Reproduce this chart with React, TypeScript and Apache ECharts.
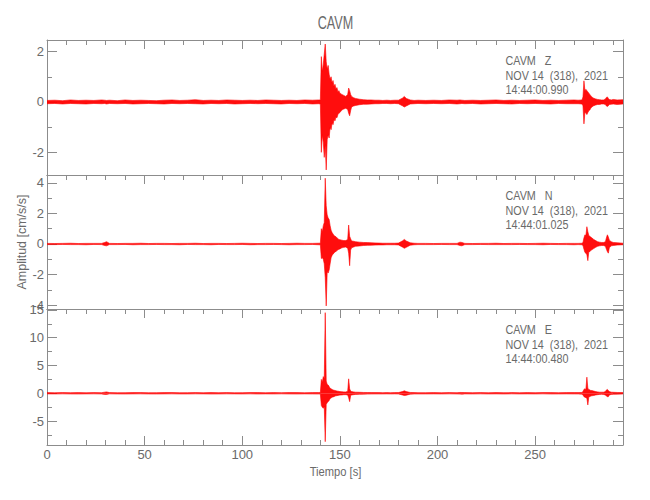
import React, { useEffect, useRef } from "react";
import * as echarts from "echarts";

const times = [
  0, 4, 8, 12, 16, 20, 24, 28, 29.5, 30.5, 32, 36, 40, 44, 48, 52, 56, 60, 64, 68, 72, 76, 80, 84, 88, 92, 96, 100, 104, 108, 112, 116, 120, 124, 128, 132, 136, 139,
  140, 140.5, 141, 141.5, 142, 142.5, 143, 143.5, 144, 144.5, 145, 145.5, 146, 146.5, 147, 147.5, 148, 148.5, 149, 149.5, 150,
  151, 152, 153, 154, 154.5, 155, 155.5, 156, 157, 158,
  160, 162, 164, 166, 168, 170, 172, 174, 176, 178, 180, 182, 183, 184, 186, 188, 190,
  194, 198, 202, 206, 210, 211.5, 212.5, 214, 218, 222, 226, 230, 234, 238, 242, 246, 250, 254, 258, 262, 266, 270,
  272, 274, 274.5, 275, 275.5, 276, 276.5, 277, 277.5, 278, 278.5, 279, 280, 281, 282, 283, 284, 285, 286, 286.5, 287, 287.5, 288, 289, 290, 292, 295,
];

const zHigh = [
  0.06, 0.07, 0.05, 0.08, 0.06, 0.07, 0.06, 0.08, 0.07, 0.06, 0.07, 0.05, 0.08, 0.06, 0.07, 0.06, 0.05, 0.07, 0.08, 0.06, 0.07, 0.09, 0.06, 0.07, 0.06, 0.08, 0.07, 0.06, 0.07, 0.06, 0.08, 0.07, 0.06, 0.07, 0.06, 0.08, 0.07, 0.08,
  0.08, 1.8, 1.2, 1.5, 1.9, 2.3, 1.6, 1.3, 1.45, 1.1, 0.9, 1.0, 0.75, 0.85, 0.6, 0.7, 0.5, 0.57, 0.4, 0.45, 0.35,
  0.3, 0.26, 0.22, 0.3, 0.55, 0.45, 0.3, 0.22, 0.17, 0.14,
  0.11, 0.09, 0.08, 0.08, 0.07, 0.07, 0.06, 0.07, 0.06, 0.07, 0.07, 0.15, 0.22, 0.14, 0.08, 0.06, 0.07,
  0.06, 0.07, 0.06, 0.08, 0.07, 0.08, 0.07, 0.06, 0.07, 0.06, 0.07, 0.08, 0.06, 0.07, 0.06, 0.07, 0.08, 0.06, 0.07, 0.06, 0.07, 0.08,
  0.07, 0.08, 0.2, 0.84, 0.45, 0.5, 0.45, 0.4, 0.35, 0.3, 0.25, 0.2, 0.15, 0.12, 0.1, 0.09, 0.08, 0.08, 0.12, 0.18, 0.2, 0.14, 0.1, 0.08, 0.1, 0.08, 0.09,
];
const zLow = [
  -0.07, -0.06, -0.08, -0.06, -0.07, -0.08, -0.06, -0.07, -0.06, -0.08, -0.06, -0.07, -0.06, -0.08, -0.07, -0.06, -0.07, -0.08, -0.06, -0.07, -0.06, -0.07, -0.08, -0.06, -0.07, -0.06, -0.08, -0.07, -0.06, -0.07, -0.06, -0.07, -0.08, -0.06, -0.07, -0.06, -0.08, -0.07,
  -0.08, -2.0, -1.3, -1.6, -2.2, -1.7, -2.7, -1.5, -1.3, -1.43, -1.0, -1.1, -0.85, -0.9, -0.7, -0.75, -0.6, -0.63, -0.5, -0.45, -0.42,
  -0.32, -0.28, -0.25, -0.3, -0.45, -0.55, -0.35, -0.2, -0.16, -0.14,
  -0.11, -0.09, -0.09, -0.08, -0.07, -0.07, -0.06, -0.06, -0.07, -0.06, -0.07, -0.15, -0.2, -0.16, -0.08, -0.07, -0.06,
  -0.07, -0.06, -0.07, -0.06, -0.08, -0.07, -0.06, -0.07, -0.06, -0.08, -0.07, -0.06, -0.07, -0.08, -0.06, -0.07, -0.06, -0.07, -0.08, -0.06, -0.07, -0.07,
  -0.07, -0.08, -0.15, -0.87, -0.4, -0.45, -0.5, -0.42, -0.35, -0.32, -0.25, -0.2, -0.15, -0.12, -0.1, -0.1, -0.08, -0.08, -0.1, -0.16, -0.18, -0.15, -0.1, -0.09, -0.08, -0.1, -0.08,
];

const nHigh = [
  0.04, 0.03, 0.04, 0.05, 0.03, 0.04, 0.04, 0.04, 0.1, 0.15, 0.04, 0.03, 0.04, 0.04, 0.05, 0.03, 0.04, 0.04, 0.03, 0.04, 0.04, 0.05, 0.03, 0.04, 0.04, 0.03, 0.04, 0.05, 0.04, 0.03, 0.04, 0.04, 0.03, 0.04, 0.05, 0.04, 0.04, 0.05,
  0.05, 1.0, 0.8, 1.2, 1.4, 4.3, 2.5, 1.9, 1.7, 1.6, 1.2, 0.9, 0.75, 0.65, 0.55, 0.5, 0.48, 0.4, 0.35, 0.3, 0.28,
  0.25, 0.22, 0.22, 0.3, 1.24, 0.5, 0.35, 0.2, 0.18, 0.15,
  0.12, 0.1, 0.09, 0.08, 0.07, 0.06, 0.05, 0.05, 0.05, 0.05, 0.06, 0.2, 0.3, 0.2, 0.08, 0.05, 0.04,
  0.04, 0.03, 0.04, 0.04, 0.04, 0.12, 0.1, 0.04, 0.03, 0.04, 0.04, 0.05, 0.03, 0.04, 0.04, 0.03, 0.04, 0.05, 0.04, 0.03, 0.04, 0.04,
  0.04, 0.05, 0.1, 0.4, 0.6, 0.55, 1.13, 0.8, 0.55, 0.5, 0.45, 0.4, 0.3, 0.22, 0.15, 0.12, 0.1, 0.1, 0.15, 0.4, 0.6, 0.45, 0.25, 0.15, 0.1, 0.08, 0.05,
];
const nLow = [
  -0.04, -0.04, -0.03, -0.04, -0.04, -0.05, -0.03, -0.04, -0.1, -0.12, -0.04, -0.04, -0.03, -0.05, -0.04, -0.04, -0.03, -0.04, -0.04, -0.05, -0.03, -0.04, -0.04, -0.05, -0.03, -0.04, -0.04, -0.03, -0.05, -0.04, -0.04, -0.03, -0.04, -0.05, -0.04, -0.04, -0.03, -0.05,
  -0.05, -0.95, -0.9, -1.0, -1.3, -2.2, -4.05, -1.8, -1.9, -1.7, -1.3, -0.9, -0.75, -0.65, -0.6, -0.5, -0.5, -0.42, -0.38, -0.35, -0.32,
  -0.25, -0.22, -0.2, -0.28, -0.6, -1.42, -0.4, -0.25, -0.2, -0.15,
  -0.13, -0.1, -0.09, -0.08, -0.07, -0.06, -0.06, -0.05, -0.05, -0.05, -0.06, -0.2, -0.28, -0.22, -0.08, -0.05, -0.04,
  -0.04, -0.04, -0.03, -0.04, -0.04, -0.1, -0.12, -0.04, -0.04, -0.03, -0.04, -0.04, -0.04, -0.04, -0.03, -0.04, -0.04, -0.05, -0.03, -0.04, -0.04, -0.05,
  -0.04, -0.05, -0.1, -0.35, -0.55, -0.6, -0.7, -1.09, -0.5, -0.5, -0.42, -0.38, -0.3, -0.22, -0.15, -0.12, -0.1, -0.1, -0.15, -0.35, -0.5, -0.6, -0.25, -0.12, -0.1, -0.07, -0.05,
];

const eHigh = [
  0.12, 0.1, 0.13, 0.11, 0.12, 0.1, 0.12, 0.11, 0.2, 0.25, 0.12, 0.1, 0.11, 0.13, 0.12, 0.1, 0.11, 0.12, 0.13, 0.1, 0.11, 0.12, 0.1, 0.13, 0.11, 0.12, 0.1, 0.11, 0.13, 0.12, 0.1, 0.12, 0.11, 0.13, 0.12, 0.1, 0.12, 0.13,
  0.12, 2.5, 2.0, 3.0, 2.6, 14.5, 2.2, 1.6, 1.5, 1.2, 0.9, 0.8, 0.7, 0.6, 0.55, 0.5, 0.45, 0.4, 0.38, 0.35, 0.3,
  0.28, 0.25, 0.25, 0.35, 2.6, 0.8, 0.4, 0.3, 0.25, 0.2,
  0.18, 0.15, 0.14, 0.13, 0.12, 0.12, 0.11, 0.12, 0.11, 0.12, 0.13, 0.3, 0.45, 0.3, 0.15, 0.12, 0.11,
  0.11, 0.12, 0.1, 0.12, 0.11, 0.15, 0.14, 0.12, 0.11, 0.12, 0.1, 0.13, 0.11, 0.12, 0.1, 0.12, 0.11, 0.13, 0.12, 0.11, 0.12, 0.13,
  0.12, 0.15, 0.3, 0.7, 0.8, 0.7, 2.9, 0.9, 0.7, 0.6, 0.5, 0.5, 0.4, 0.3, 0.25, 0.2, 0.2, 0.2, 0.3, 0.6, 0.7, 0.5, 0.3, 0.2, 0.18, 0.15, 0.12,
];
const eLow = [
  -0.11, -0.12, -0.1, -0.12, -0.13, -0.11, -0.1, -0.12, -0.2, -0.22, -0.1, -0.12, -0.13, -0.11, -0.1, -0.12, -0.13, -0.11, -0.1, -0.12, -0.12, -0.1, -0.11, -0.13, -0.12, -0.1, -0.11, -0.12, -0.1, -0.13, -0.11, -0.12, -0.1, -0.12, -0.13, -0.11, -0.12, -0.13,
  -0.12, -2.2, -2.5, -2.7, -2.4, -8.7, -2.0, -1.7, -1.5, -1.3, -0.95, -0.85, -0.7, -0.65, -0.6, -0.5, -0.45, -0.42, -0.38, -0.35, -0.32,
  -0.3, -0.25, -0.25, -0.3, -0.8, -1.5, -0.45, -0.3, -0.25, -0.2,
  -0.18, -0.15, -0.14, -0.13, -0.12, -0.12, -0.12, -0.11, -0.12, -0.11, -0.12, -0.3, -0.4, -0.35, -0.15, -0.12, -0.12,
  -0.12, -0.11, -0.12, -0.1, -0.12, -0.14, -0.15, -0.11, -0.12, -0.1, -0.12, -0.11, -0.13, -0.1, -0.12, -0.11, -0.12, -0.1, -0.13, -0.12, -0.11, -0.12,
  -0.12, -0.15, -0.3, -0.6, -0.7, -0.8, -0.9, -2.1, -0.6, -0.6, -0.5, -0.45, -0.4, -0.3, -0.25, -0.2, -0.18, -0.2, -0.3, -0.5, -0.6, -0.6, -0.3, -0.2, -0.18, -0.15, -0.12,
];

const stationName = "CAVM";
const componentNames = ["Z", "N", "E"];
const dateLabel = "NOV 14  (318),  2021";
const startTimes = ["14:44:00.990", "14:44:01.025", "14:44:00.480"];
const xAxisTitle = "Tiempo [s]";
const yAxisTitle = "Amplitud [cm/s/s]";

const xMin = 0;
const xMax = 295;
const xLabelTicks = [0, 50, 100, 150, 200, 250];
const xMinorTicks = [0, 10, 20, 30, 40, 50, 60, 70, 80, 90, 100, 110, 120, 130, 140, 150, 160, 170, 180, 190, 200, 210, 220, 230, 240, 250, 260, 270, 280, 290];
const yMins = [-2.9, -4.25, -9.3];
const yMaxs = [2.46, 4.51, 15.16];
const yLabelTicks = [[-2, 0, 2], [-4, -2, 0, 2, 4], [-5, 0, 5, 10, 15]];
const yMinorTicks = [
  [-2, -1, 0, 1, 2],
  [-4, -3, -2, -1, 0, 1, 2, 3, 4],
  [-7.5, -5, -2.5, 0, 2.5, 5, 7.5, 10, 12.5, 15],
];

// ---- styling / layout ----
const FONT = "'Liberation Sans', Arial, sans-serif";
const AXIS_COLOR = "#8c8c8c";
const TEXT_COLOR = "#6a6a6a";
const TRACE_COLOR = "#ff0000";
const GRID_LEFT = 47;
const GRID_RIGHT = 27;
const gridTops = [40, 175, 309];
const gridHeights = [135, 134, 136];

export default function App() {
  const ref = useRef<HTMLDivElement>(null);

  useEffect(() => {
    if (!ref.current) return;
    const chart = echarts.init(ref.current, undefined, { renderer: "svg" });

    const highs = [zHigh, nHigh, eHigh];
    const lows = [zLow, nLow, eLow];

    const grids: any[] = [];
    const xAxes: any[] = [];
    const yAxes: any[] = [];
    const series: any[] = [];
    const graphics: any[] = [];

    const line = { show: true, onZero: false, lineStyle: { color: AXIS_COLOR, width: 1 } };
    const noLine = { show: false, onZero: false };
    const tick = (length: number, values: number[]) => ({
      show: true, inside: true, length, customValues: values, lineStyle: { color: AXIS_COLOR, width: 1 },
    });
    const labelStyle = { color: TEXT_COLOR, fontFamily: FONT, fontSize: 13 };

    for (let g = 0; g < 3; g++) {
      grids.push({ left: GRID_LEFT, right: GRID_RIGHT, top: gridTops[g], height: gridHeights[g], containLabel: false });
      const isLast = g === 2;
      const mainX = xAxes.length;
      xAxes.push({
        type: "value", gridIndex: g, min: xMin, max: xMax, position: "bottom",
        axisLine: line,
        axisTick: isLast ? tick(9, xLabelTicks) : { show: false },
        axisLabel: isLast ? { show: true, customValues: xLabelTicks, margin: 3, ...labelStyle } : { show: false },
        splitLine: { show: false },
      });
      xAxes.push({
        type: "value", gridIndex: g, min: xMin, max: xMax, position: "top",
        axisLine: line, axisTick: tick(9, xLabelTicks),
        axisLabel: { show: false }, splitLine: { show: false },
      });
      xAxes.push({
        type: "value", gridIndex: g, min: xMin, max: xMax, position: "top",
        axisLine: noLine, axisTick: tick(5, xMinorTicks),
        axisLabel: { show: false }, splitLine: { show: false },
      });
      if (isLast) {
        xAxes.push({
          type: "value", gridIndex: g, min: xMin, max: xMax, position: "bottom",
          axisLine: noLine, axisTick: tick(5, xMinorTicks),
          axisLabel: { show: false }, splitLine: { show: false },
        });
      }

      const mainY = yAxes.length;
      yAxes.push({
        type: "value", gridIndex: g, min: yMins[g], max: yMaxs[g], position: "left",
        axisLine: line, axisTick: tick(10, yLabelTicks[g]),
        axisLabel: { show: true, customValues: yLabelTicks[g], margin: 3, ...labelStyle },
        splitLine: { show: false },
      });
      yAxes.push({
        type: "value", gridIndex: g, min: yMins[g], max: yMaxs[g], position: "left",
        axisLine: noLine, axisTick: tick(5, yMinorTicks[g]),
        axisLabel: { show: false }, splitLine: { show: false },
      });
      yAxes.push({
        type: "value", gridIndex: g, min: yMins[g], max: yMaxs[g], position: "right",
        axisLine: line, axisTick: tick(10, yLabelTicks[g]),
        axisLabel: { show: false }, splitLine: { show: false },
      });
      yAxes.push({
        type: "value", gridIndex: g, min: yMins[g], max: yMaxs[g], position: "right",
        axisLine: noLine, axisTick: tick(5, yMinorTicks[g]),
        axisLabel: { show: false }, splitLine: { show: false },
      });

      [highs[g], lows[g]].forEach((vals, k) => {
        series.push({
          type: "line",
          name: componentNames[g] + (k === 0 ? "+" : "-"),
          xAxisIndex: mainX,
          yAxisIndex: mainY,
          data: times.map((t, i) => [t, vals[i]]),
          showSymbol: false,
          symbol: "none",
          lineStyle: { color: TRACE_COLOR, width: 0.6 },
          areaStyle: { color: TRACE_COLOR, opacity: 0.95 },
          z: 3,
        });
      });

      const annLines = [stationName + "   " + componentNames[g], dateLabel, startTimes[g]];
      const offsets = [21, 35.7, 50];
      annLines.forEach((txt, j) => {
        graphics.push({
          type: "text",
          x: 505.5,
          y: gridTops[g] + offsets[j],
          scaleX: 0.83,
          style: { text: txt, fill: TEXT_COLOR, font: `13px ${FONT}`, textAlign: "left", textVerticalAlign: "middle" },
          z: 10,
        });
      });
    }

    graphics.push({
      type: "text",
      x: 335.5,
      y: 23,
      scaleX: 0.7,
      style: { text: stationName, fill: TEXT_COLOR, font: `18px ${FONT}`, textAlign: "center", textVerticalAlign: "middle" },
    });
    graphics.push({
      type: "text",
      x: 335.5,
      y: 471.5,
      scaleX: 0.86,
      style: { text: xAxisTitle, fill: TEXT_COLOR, font: `13px ${FONT}`, textAlign: "center", textVerticalAlign: "middle" },
    });
    graphics.push({
      type: "text",
      x: 21.6,
      y: 242,
      rotation: Math.PI / 2,
      scaleX: 0.96,
      style: { text: yAxisTitle, fill: TEXT_COLOR, font: `13px ${FONT}`, textAlign: "center", textVerticalAlign: "middle" },
    });

    chart.setOption({
      animation: false,
      backgroundColor: "#ffffff",
      grid: grids,
      xAxis: xAxes,
      yAxis: yAxes,
      series,
      graphic: graphics,
    });

    return () => chart.dispose();
  }, []);

  return (
    <div
      ref={ref}
      style={{ position: "absolute", left: 0, top: 0, width: 650, height: 500, background: "#fff" }}
    />
  );
}
